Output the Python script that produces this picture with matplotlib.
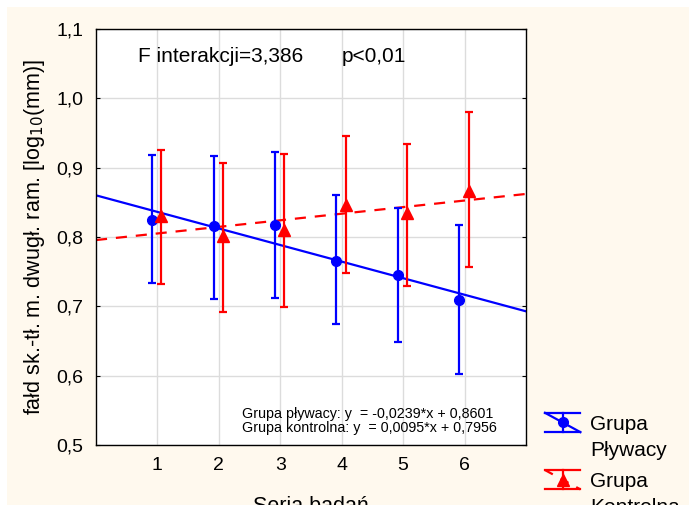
import numpy as np
import matplotlib.pyplot as plt
from matplotlib.patches import Rectangle
from matplotlib.lines import Line2D
from matplotlib.legend_handler import HandlerBase

plt.rcParams['font.family'] = ['Liberation Sans', 'DejaVu Sans']

# dane
seria = [1, 2, 3, 4, 5, 6]
plyw_mean = [0.825, 0.816, 0.818, 0.766, 0.745, 0.709]
plyw_low = [0.733, 0.711, 0.712, 0.674, 0.648, 0.603]
plyw_high = [0.918, 0.917, 0.922, 0.861, 0.842, 0.817]
kontr_mean = [0.830, 0.801, 0.810, 0.846, 0.834, 0.867]
kontr_low = [0.732, 0.692, 0.699, 0.748, 0.730, 0.757]
kontr_high = [0.926, 0.907, 0.919, 0.945, 0.934, 0.980]

# regresje
a_plyw, b_plyw = -0.0239, 0.8601
a_kontr, b_kontr = 0.0095, 0.7956


class StatHandler(HandlerBase):
    # znaczek legendy w stylu Statistica: dwie poziome kreski, pion, skos, marker
    def __init__(self, color, marker, ms, ls, dy=0):
        super().__init__()
        self.color, self.marker, self.ms, self.ls, self.dy = color, marker, ms, ls, dy

    def create_artists(self, legend, orig_handle, xdescent, ydescent, width, height, fontsize, trans):
        x0, x1 = -xdescent, -xdescent + width
        y0, y1 = -ydescent + self.dy, -ydescent + height + self.dy
        xm, ym = (x0 + x1) / 2, (y0 + y1) / 2
        kw = dict(color=self.color, lw=1.6, transform=trans)
        arts = [Line2D([x0, x1], [y1, y1], **kw),
                Line2D([x0, x1], [y0, y0], **kw),
                Line2D([xm, xm], [y0, y1], **kw),
                Line2D([x0, x1], [y1, y0], ls=self.ls, **kw),
                Line2D([xm], [ym], marker=self.marker, ms=self.ms, color=self.color,
                       ls='none', transform=trans)]
        return arts


cream = '#fff9ee'
fig = plt.figure(figsize=(6.89, 5.09), dpi=100)
fig.patch.set_facecolor('white')
fig.patches.append(Rectangle((7/689, 4/509), 1, 498/509, transform=fig.transFigure,
                             facecolor=cream, edgecolor='none', zorder=-10))

ax = fig.add_axes([96/689, 64/509, 430/689, 416/509])
ax.set_facecolor('white')

x = np.array(seria)
xx = np.array([0, 7])
ax.plot(xx, a_plyw * xx + b_plyw, color='blue', lw=1.6, zorder=2)
ax.plot(xx, a_kontr * xx + b_kontr, color='red', lw=1.6, ls=(0, (5, 4)), zorder=2)

pm = np.array(plyw_mean)
km = np.array(kontr_mean)
e1 = ax.errorbar(x - 0.085, pm, yerr=[pm - np.array(plyw_low), np.array(plyw_high) - pm],
                 fmt='o', color='blue', ms=7, lw=1.6, capsize=3, capthick=1.6, zorder=3)
e2 = ax.errorbar(x + 0.065, km, yerr=[km - np.array(kontr_low), np.array(kontr_high) - km],
                 fmt='^', color='red', ms=9, lw=1.6, capsize=3, capthick=1.6, zorder=3)

ax.set_xlim(0, 7)
ax.set_ylim(0.5, 1.1)
ax.set_xticks(seria)
ax.set_yticks([0.5, 0.6, 0.7, 0.8, 0.9, 1.0, 1.1])
ax.set_yticklabels(['0,5', '0,6', '0,7', '0,8', '0,9', '1,0', '1,1'])
ax.grid(True, color='#dcdcdc', lw=1)
ax.set_axisbelow(True)
ax.tick_params(axis='both', labelsize=14, length=0, pad=9)
ax.tick_params(axis='y', right=True, direction='in', length=3)
for s in ax.spines.values():
    s.set_color('black')
    s.set_linewidth(1)

ax.set_ylabel('fałd sk.-tł. m. dwugł. ram. [log$_{10}$(mm)]', fontsize=15.5)
ax.yaxis.set_label_coords(-0.113, 0.5)
ax.set_xlabel('Seria badań', fontsize=15.5)
ax.xaxis.set_label_coords(0.5, -0.122)

ax.text(0.098, 0.935, 'F interakcji=3,386', transform=ax.transAxes, fontsize=15, va='center')
ax.text(0.572, 0.935, 'p<0,01', transform=ax.transAxes, fontsize=15, va='center')
ax.text(0.34, 0.058, 'Grupa pływacy: y  = -0,0239*x + 0,8601\nGrupa kontrolna: y  = 0,0095*x + 0,7956',
        transform=ax.transAxes, fontsize=10.3, va='center', linespacing=1.05)

leg = fig.legend([e1, e2], ['Grupa\nPływacy', 'Grupa\nKontrolna'], loc='upper left',
                 bbox_to_anchor=(545/689, 1 - 415/509), frameon=False, fontsize=15,
                 handlelength=1.7, handleheight=1.05, labelspacing=0.6, handletextpad=0.45,
                 borderaxespad=0, borderpad=0,
                 handler_map={e1: StatHandler('blue', 'o', 7, '-', dy=11),
                              e2: StatHandler('red', '^', 9, (0, (4, 4)), dy=11)})
for t in leg.get_texts():
    t.set_linespacing(1.45)

# biały pasek na dole przycina podpis osi
fig.patches.append(Rectangle((0, 0), 1, 4/509, transform=fig.transFigure,
                             facecolor='white', edgecolor='none', zorder=20))

fig.savefig('out.png', dpi=100, facecolor=fig.get_facecolor())
